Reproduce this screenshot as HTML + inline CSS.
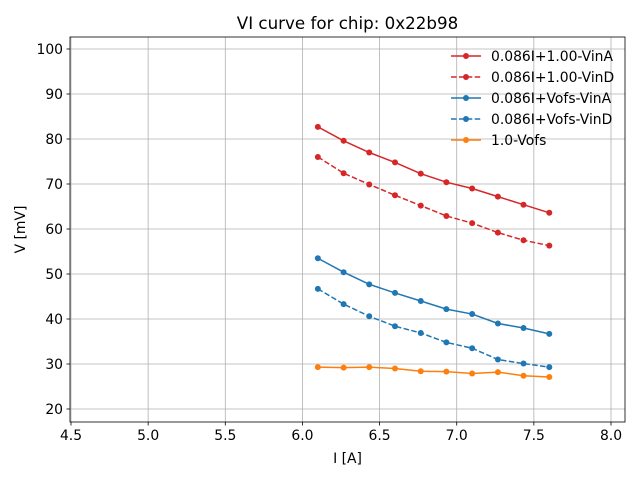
<!DOCTYPE html>
<html><head><meta charset="utf-8"><style>
body{margin:0;background:#fff;}
svg{font-family:"DejaVu Sans","Liberation Sans",sans-serif;}
</style></head><body>
<svg id="chart" width="640" height="480"></svg>
<script>
const xs=[6.1,6.267,6.433,6.6,6.767,6.933,7.1,7.267,7.433,7.6];
const redSolid=[82.7,79.6,77.0,74.8,72.3,70.4,69.0,67.2,65.4,63.6];
const redDash=[76.0,72.4,69.9,67.5,65.2,62.9,61.3,59.2,57.5,56.3];
const blueSolid=[53.5,50.4,47.7,45.8,44.0,42.2,41.1,39.0,38.0,36.7];
const blueDash=[46.7,43.3,40.6,38.4,36.9,34.8,33.5,31.0,30.1,29.3];
const orange=[29.3,29.2,29.3,29.0,28.4,28.3,27.9,28.2,27.4,27.1];
const xTicks=[4.5,5.0,5.5,6.0,6.5,7.0,7.5,8.0];
const yTicks=[20,30,40,50,60,70,80,90,100];
const seriesNames=["0.086I+1.00-VinA","0.086I+1.00-VinD","0.086I+Vofs-VinA","0.086I+Vofs-VinD","1.0-Vofs"];

const L=70,R=625,T=37,B=422;
const X=v=>71+(v-4.5)*(611-71)/3.5;
const Y=v=>409-(v-20)*(409-49)/80;
const svg=document.getElementById('chart');
const NS='http://www.w3.org/2000/svg';
function mk(tag,attrs,parent){const e=document.createElementNS(NS,tag);for(const k in attrs)e.setAttribute(k,attrs[k]);(parent||svg).appendChild(e);return e;}

const grid=mk('g',{});


xTicks.forEach(t=>{
  const l=mk('line',{x1:X(t),x2:X(t),y1:T,y2:B,stroke:'#b0b0b0','stroke-width':0.8},grid);
  
  
  mk('line',{x1:X(t),x2:X(t),y1:B,y2:B+3.5,stroke:'#000','stroke-width':0.8});
  const tx=mk('text',{x:X(t),y:B+18,'text-anchor':'middle','font-size':13.9,fill:'#000'});
  tx.textContent=t.toFixed(1);
  
  
});
yTicks.forEach(t=>{
  const l=mk('line',{x1:L,x2:R,y1:Y(t),y2:Y(t),stroke:'#b0b0b0','stroke-width':0.8},grid);
  
  
  mk('line',{x1:L-3.5,x2:L,y1:Y(t),y2:Y(t),stroke:'#000','stroke-width':0.8});
  const tx=mk('text',{x:L-7,y:Y(t)+5,'text-anchor':'end','font-size':13.9,fill:'#000'});
  tx.textContent=t;
  
  
});

const series=[[redSolid,'#d62728',''],[redDash,'#d62728','5.5,2.4'],[blueSolid,'#1f77b4',''],[blueDash,'#1f77b4','5.5,2.4'],[orange,'#ff7f0e','']];
const names=['series-red-vina','series-red-vind','series-blue-vina','series-blue-vind','series-orange-vofs'];
series.forEach((s,i)=>{
  const g=mk('g',{});
  
  
  mk('polyline',{points:xs.map((x,j)=>X(x)+','+Y(s[0][j])).join(' '),fill:'none',stroke:s[1],'stroke-width':1.5,'stroke-dasharray':s[2]},g);
  xs.forEach((x,j)=>{
    const c=mk('circle',{cx:X(x),cy:Y(s[0][j]),r:3,fill:s[1]},g);
    
    
  });
});

const frame=mk('rect',{x:L,y:T,width:R-L,height:B-T,fill:'none',stroke:'#000','stroke-width':0.8});



const leg=mk('g',{});


series.forEach((s,i)=>{
  const y=56+i*21;
  const e=mk('g',{},leg);
  
  
  mk('line',{x1:451,x2:481,y1:y,y2:y,stroke:s[1],'stroke-width':1.5,'stroke-dasharray':s[2]},e);
  mk('circle',{cx:466,cy:y,r:3,fill:s[1]},e);
  const t=mk('text',{x:491,y:y+5,'font-size':13.9,fill:'#000'},e);
  t.textContent=seriesNames[i];
});

const title=mk('text',{x:(L+R)/2,y:29,'text-anchor':'middle','font-size':16.7,fill:'#000'});
title.textContent='VI curve for chip: 0x22b98';


const xl=mk('text',{x:(L+R)/2,y:463,'text-anchor':'middle','font-size':13.9,fill:'#000'});
xl.textContent='I [A]';


const yl=mk('text',{x:25,y:(T+B)/2,'text-anchor':'middle','font-size':13.9,fill:'#000',transform:'rotate(-90 25 '+((T+B)/2)+')'});
yl.textContent='V [mV]';


</script>
</body></html>
